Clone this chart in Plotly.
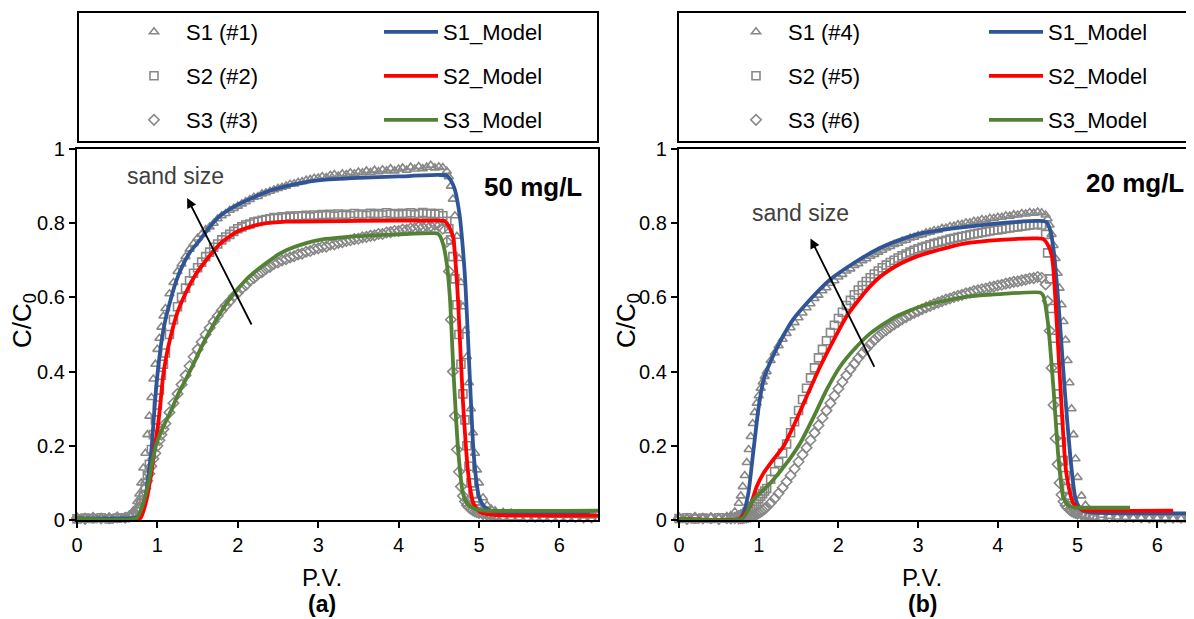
import plotly.graph_objects as go

W, H = 1194, 619
OFF = 8  # default page body margin that offsets the figure in the browser
FONT = "Liberation Sans, Arial, sans-serif"


def fx(p):
    return (p - OFF) / W


def fy(p):
    return 1 - (p - OFF) / H


# ---------------- shared P.V. sampling of the measured data ----------------
pv = [0.0, 0.1, 0.2, 0.3, 0.4, 0.5, 0.6, 0.65, 0.7, 0.75, 0.775, 0.8, 0.825, 0.85, 0.875,
      0.9, 0.925, 0.95, 0.975, 1.0, 1.025, 1.05, 1.075, 1.1, 1.15, 1.2, 1.25, 1.3, 1.35, 1.4, 1.45, 1.5,
      1.55, 1.6, 1.65, 1.7, 1.75, 1.8, 1.85, 1.9, 1.95, 2.0,
      2.05, 2.1, 2.15, 2.2, 2.25, 2.3, 2.35, 2.4, 2.45, 2.5,
      2.55, 2.6, 2.65, 2.7, 2.75, 2.8, 2.85, 2.9, 2.95, 3.0,
      3.05, 3.1, 3.15, 3.2, 3.25, 3.3, 3.35, 3.4, 3.45, 3.5,
      3.55, 3.6, 3.65, 3.7, 3.75, 3.8, 3.85, 3.9, 3.95, 4.0,
      4.05, 4.1, 4.15, 4.2, 4.25, 4.3, 4.35, 4.4, 4.45, 4.5,
      4.55, 4.6, 4.625, 4.65, 4.675, 4.7, 4.725, 4.75, 4.775, 4.8, 4.825, 4.85, 4.875,
      4.9, 4.925, 4.95, 4.975, 5.0, 5.05, 5.1, 5.15, 5.2,
      5.3, 5.4, 5.5, 5.6, 5.7, 5.8, 5.9, 6.0, 6.1, 6.2, 6.3, 6.4, 6.5]

# ---------------- panel (a): 50 mg/L measured ----------------
s1_a = [0.004, 0.006, 0.003, 0.005, 0.006, 0.004, 0.008, 0.012, 0.025, 0.05, 0.07, 0.1, 0.14, 0.18, 0.23,
        0.28, 0.33, 0.38, 0.42, 0.46, 0.49, 0.52, 0.55, 0.57, 0.61, 0.64, 0.67, 0.69, 0.71, 0.73, 0.745, 0.76,
        0.77, 0.783, 0.79, 0.80, 0.812, 0.82, 0.826, 0.835, 0.84, 0.846,
        0.852, 0.858, 0.864, 0.87, 0.872, 0.879, 0.882, 0.886, 0.89, 0.894,
        0.897, 0.90, 0.905, 0.906, 0.91, 0.912, 0.916, 0.918, 0.921, 0.922,
        0.926, 0.923, 0.929, 0.931, 0.927, 0.933, 0.931, 0.936, 0.933, 0.938,
        0.936, 0.941, 0.937, 0.943, 0.939, 0.944, 0.941, 0.947, 0.941, 0.946,
        0.949, 0.943, 0.951, 0.946, 0.953, 0.947, 0.951, 0.956, 0.949, 0.952,
        0.95, 0.94, 0.925, 0.9, 0.865, 0.82, 0.765, 0.705, 0.64, 0.575, 0.51, 0.44, 0.37,
        0.3, 0.235, 0.18, 0.135, 0.1, 0.06, 0.04, 0.03, 0.025,
        0.021, 0.019, 0.017, 0.016, 0.015, 0.014, 0.013, 0.013, 0.012, 0.012, 0.011, 0.011, 0.01]
s2_a = [0.003, 0.005, 0.004, 0.006, 0.003, 0.005, 0.006, 0.008, 0.012, 0.022, 0.03, 0.045, 0.065, 0.09, 0.12,
        0.15, 0.19, 0.23, 0.27, 0.31, 0.35, 0.39, 0.42, 0.45, 0.5, 0.54, 0.575, 0.6, 0.625, 0.645, 0.665, 0.68,
        0.695, 0.71, 0.722, 0.735, 0.744, 0.755, 0.763, 0.77, 0.778, 0.785,
        0.79, 0.795, 0.798, 0.803, 0.805, 0.808, 0.81, 0.812, 0.815, 0.813,
        0.817, 0.815, 0.819, 0.816, 0.82, 0.818, 0.821, 0.817, 0.822, 0.819,
        0.823, 0.82, 0.824, 0.819, 0.825, 0.821, 0.824, 0.82, 0.826, 0.822,
        0.825, 0.821, 0.827, 0.823, 0.826, 0.822, 0.828, 0.824, 0.826, 0.823,
        0.827, 0.824, 0.828, 0.823, 0.826, 0.829, 0.825, 0.827, 0.824, 0.826,
        0.82, 0.805, 0.785, 0.755, 0.71, 0.65, 0.58, 0.5, 0.42, 0.34, 0.27, 0.2, 0.145,
        0.1, 0.07, 0.05, 0.038, 0.03, 0.021, 0.017, 0.015, 0.013,
        0.012, 0.011, 0.011, 0.01, 0.01, 0.01, 0.009, 0.009, 0.009, 0.008, 0.008, 0.008, 0.008]
s3_a = [0.005, 0.003, 0.006, 0.004, 0.005, 0.007, 0.006, 0.01, 0.015, 0.025, 0.035, 0.05, 0.065, 0.085, 0.105,
        0.125, 0.145, 0.165, 0.18, 0.2, 0.215, 0.23, 0.245, 0.26, 0.29, 0.315, 0.34, 0.365, 0.39, 0.415, 0.44, 0.46,
        0.48, 0.5, 0.518, 0.535, 0.55, 0.565, 0.578, 0.59, 0.603, 0.612,
        0.624, 0.633, 0.645, 0.652, 0.662, 0.668, 0.677, 0.682, 0.69, 0.694,
        0.7, 0.703, 0.708, 0.711, 0.716, 0.718, 0.723, 0.725, 0.73, 0.732,
        0.736, 0.737, 0.742, 0.743, 0.747, 0.749, 0.752, 0.754, 0.757, 0.758,
        0.762, 0.763, 0.766, 0.767, 0.771, 0.771, 0.775, 0.776, 0.779, 0.779,
        0.783, 0.782, 0.786, 0.786, 0.79, 0.789, 0.793, 0.792, 0.796, 0.793,
        0.785, 0.75, 0.67, 0.54, 0.4, 0.28, 0.19, 0.13, 0.09, 0.065, 0.05, 0.04, 0.034,
        0.03, 0.026, 0.023, 0.021, 0.019, 0.016, 0.014, 0.013, 0.012,
        0.011, 0.01, 0.01, 0.009, 0.009, 0.009, 0.008, 0.008, 0.008, 0.008, 0.007, 0.007, 0.007]

# ---------------- panel (b): 20 mg/L measured ----------------
s1_b = [0.006, 0.004, 0.008, 0.005, 0.007, 0.005, 0.009, 0.012, 0.022, 0.045, 0.065, 0.09, 0.12, 0.155, 0.19,
        0.225, 0.26, 0.29, 0.315, 0.335, 0.355, 0.372, 0.387, 0.4, 0.43, 0.45, 0.47, 0.487, 0.503, 0.518, 0.532, 0.545,
        0.558, 0.572, 0.583, 0.597, 0.606, 0.618, 0.626, 0.638, 0.645, 0.655,
        0.662, 0.671, 0.677, 0.686, 0.691, 0.699, 0.704, 0.711, 0.716, 0.722,
        0.727, 0.733, 0.737, 0.743, 0.746, 0.752, 0.754, 0.76, 0.762, 0.767,
        0.769, 0.774, 0.776, 0.78, 0.781, 0.786, 0.787, 0.791, 0.792, 0.796,
        0.797, 0.801, 0.801, 0.805, 0.806, 0.81, 0.809, 0.813, 0.813, 0.816,
        0.816, 0.82, 0.819, 0.823, 0.822, 0.826, 0.825, 0.829, 0.827, 0.83,
        0.828, 0.822, 0.812, 0.795, 0.77, 0.74, 0.705, 0.665, 0.625, 0.58, 0.535, 0.485, 0.43,
        0.37, 0.3, 0.23, 0.165, 0.115, 0.065, 0.04, 0.027, 0.02,
        0.013, 0.01, 0.008, 0.007, 0.006, 0.006, 0.005, 0.005, 0.005, 0.004, 0.004, 0.004, 0.004]
s2_b = [0.004, 0.006, 0.003, 0.005, 0.004, 0.006, 0.005, 0.006, 0.007, 0.009, 0.011, 0.014, 0.017, 0.021, 0.026,
        0.031, 0.037, 0.043, 0.05, 0.057, 0.064, 0.071, 0.078, 0.085, 0.11, 0.13, 0.155, 0.18, 0.205, 0.235, 0.265, 0.295,
        0.325, 0.355, 0.383, 0.41, 0.437, 0.46, 0.483, 0.505, 0.525, 0.543,
        0.56, 0.578, 0.592, 0.607, 0.62, 0.632, 0.643, 0.653, 0.663, 0.671,
        0.68, 0.687, 0.694, 0.7, 0.706, 0.712, 0.717, 0.722, 0.727, 0.731,
        0.735, 0.738, 0.742, 0.745, 0.748, 0.751, 0.754, 0.757, 0.759, 0.762,
        0.764, 0.766, 0.769, 0.771, 0.773, 0.775, 0.777, 0.779, 0.781, 0.782,
        0.784, 0.786, 0.787, 0.789, 0.79, 0.792, 0.793, 0.795, 0.796, 0.797,
        0.795, 0.77, 0.72, 0.65, 0.57, 0.49, 0.41, 0.34, 0.27, 0.21, 0.16, 0.12, 0.085,
        0.06, 0.045, 0.035, 0.028, 0.023, 0.018, 0.014, 0.012, 0.011,
        0.01, 0.009, 0.009, 0.008, 0.008, 0.008, 0.007, 0.007, 0.007, 0.007, 0.006, 0.006, 0.006]
s3_b = [0.005, 0.003, 0.006, 0.004, 0.005, 0.003, 0.005, 0.004, 0.005, 0.004, 0.005, 0.005, 0.006, 0.007, 0.008,
        0.009, 0.011, 0.013, 0.016, 0.019, 0.022, 0.026, 0.03, 0.035, 0.046, 0.058, 0.072, 0.087, 0.103, 0.12, 0.138, 0.157,
        0.176, 0.195, 0.215, 0.235, 0.255, 0.275, 0.295, 0.315, 0.335, 0.354,
        0.372, 0.39, 0.406, 0.421, 0.436, 0.449, 0.462, 0.474, 0.485, 0.495,
        0.504, 0.512, 0.52, 0.527, 0.534, 0.541, 0.547, 0.553, 0.558, 0.563,
        0.568, 0.573, 0.577, 0.582, 0.586, 0.59, 0.594, 0.597, 0.601, 0.604,
        0.607, 0.611, 0.613, 0.617, 0.619, 0.622, 0.624, 0.627, 0.629, 0.632,
        0.634, 0.637, 0.639, 0.642, 0.643, 0.646, 0.648, 0.651, 0.652, 0.655,
        0.653, 0.635, 0.59, 0.51, 0.41, 0.31, 0.22, 0.15, 0.1, 0.068, 0.05, 0.04, 0.033,
        0.028, 0.024, 0.021, 0.019, 0.017, 0.015, 0.013, 0.012, 0.011,
        0.01, 0.009, 0.009, 0.008, 0.008, 0.007, 0.007, 0.007, 0.006, 0.006, 0.006, 0.006, 0.005]

# ---------------- model curves ----------------
m1_a_x = [0, 0.7, 0.76, 0.8, 0.85, 0.9, 0.93, 0.96, 0.99, 1.02, 1.05, 1.1, 1.16, 1.22, 1.28, 1.4, 1.53, 1.65, 1.78,
          2.0, 2.2, 2.4, 2.6, 2.8, 3.03, 3.5, 4.0, 4.5, 4.6, 4.65, 4.7, 4.76, 4.8, 4.83, 4.88, 4.93, 4.97, 5.0,
          5.05, 5.1, 5.2, 5.4, 6.38]
m1_a_y = [0.005, 0.005, 0.008, 0.025, 0.06, 0.14, 0.2, 0.29, 0.37, 0.43, 0.48, 0.54, 0.59, 0.635, 0.67, 0.72, 0.755,
          0.79, 0.82, 0.85, 0.87, 0.888, 0.9, 0.909, 0.916, 0.922, 0.926, 0.93, 0.928, 0.915, 0.89, 0.82, 0.73, 0.64,
          0.41, 0.19, 0.1, 0.063, 0.04, 0.03, 0.022, 0.02, 0.019]
m2_a_x = [0, 0.78, 0.82, 0.87, 0.93, 0.97, 1.01, 1.04, 1.07, 1.11, 1.16, 1.25, 1.37, 1.47, 1.57, 1.68, 1.78, 1.99,
          2.15, 2.3, 2.61, 3.5, 4.5, 4.57, 4.6, 4.64, 4.68, 4.71, 4.74, 4.8, 4.87, 4.93, 5.0, 5.05, 5.2, 6.5]
m2_a_y = [0.003, 0.003, 0.02, 0.06, 0.135, 0.2, 0.26, 0.32, 0.386, 0.44, 0.49, 0.56, 0.62, 0.66, 0.69, 0.72, 0.745,
          0.777, 0.79, 0.798, 0.804, 0.806, 0.807, 0.806, 0.8, 0.785, 0.76, 0.69, 0.59, 0.32, 0.117, 0.045, 0.024,
          0.018, 0.013, 0.012]
m3_a_x = [0, 0.74, 0.8, 0.85, 0.89, 0.94, 0.99, 1.07, 1.16, 1.26, 1.37, 1.47, 1.57, 1.68, 1.78, 1.88, 1.99, 2.09,
          2.19, 2.3, 2.4, 2.5, 2.61, 2.8, 3.02, 3.5, 4.0, 4.45, 4.5, 4.55, 4.6, 4.64, 4.68, 4.74, 4.8, 4.86, 4.93,
          5.0, 5.1, 6.5]
m3_a_y = [0.005, 0.005, 0.03, 0.065, 0.1, 0.16, 0.207, 0.25, 0.29, 0.34, 0.386, 0.43, 0.476, 0.52, 0.557, 0.59,
          0.62, 0.645, 0.665, 0.684, 0.7, 0.715, 0.728, 0.743, 0.755, 0.765, 0.77, 0.773, 0.77, 0.746, 0.69, 0.593,
          0.41, 0.19, 0.072, 0.042, 0.032, 0.027, 0.025, 0.025]

m1_b_x = [0, 0.76, 0.81, 0.87, 0.93, 1.0, 1.06, 1.14, 1.26, 1.43, 1.64, 1.89, 2.19, 2.52, 2.77, 3.02, 3.3, 3.61,
          4.03, 4.53, 4.61, 4.66, 4.7, 4.74, 4.78, 4.84, 4.91, 4.97, 5.02, 5.07, 5.2, 6.6]
m1_b_y = [0.003, 0.003, 0.02, 0.072, 0.18, 0.305, 0.377, 0.423, 0.477, 0.54, 0.593, 0.647, 0.692, 0.733, 0.755,
          0.772, 0.782, 0.79, 0.8, 0.806, 0.803, 0.78, 0.728, 0.64, 0.53, 0.35, 0.17, 0.063, 0.035, 0.025, 0.02, 0.018]
m2_b_x = [0, 0.765, 0.82, 0.89, 0.975, 1.06, 1.18, 1.31, 1.43, 1.6, 1.77, 1.94, 2.1, 2.27, 2.4, 2.52, 2.65, 2.77,
          2.9, 3.02, 3.19, 3.61, 4.03, 4.5, 4.57, 4.62, 4.68, 4.74, 4.8, 4.86, 4.95, 5.07, 5.2, 6.2]
m2_b_y = [0.003, 0.003, 0.015, 0.036, 0.09, 0.126, 0.162, 0.198, 0.25, 0.332, 0.413, 0.485, 0.548, 0.597, 0.63,
          0.655, 0.675, 0.69, 0.703, 0.713, 0.724, 0.746, 0.755, 0.759, 0.757, 0.745, 0.71, 0.53, 0.305, 0.126,
          0.045, 0.027, 0.025, 0.025]
m3_b_x = [0, 0.79, 0.85, 0.93, 1.06, 1.18, 1.35, 1.52, 1.69, 1.85, 2.02, 2.19, 2.4, 2.69, 3.02, 3.19, 3.61, 4.03,
          4.53, 4.57, 4.63, 4.7, 4.76, 4.82, 4.88, 4.95, 5.1, 5.66]
m3_b_y = [0.003, 0.003, 0.02, 0.054, 0.081, 0.108, 0.153, 0.207, 0.278, 0.35, 0.413, 0.458, 0.503, 0.545, 0.575,
          0.584, 0.602, 0.609, 0.613, 0.605, 0.53, 0.35, 0.17, 0.063, 0.04, 0.034, 0.033, 0.033]

x_ticks = [0, 1, 2, 3, 4, 5, 6]
y_ticks = [0, 0.2, 0.4, 0.6, 0.8, 1]
y_tick_text = ["0", "0.2", "0.4", "0.6", "0.8", "1"]

for arr in (s1_a, s2_a, s3_a, s1_b, s2_b, s3_b):
    assert len(arr) == len(pv), len(arr)
for xs, ys in ((m1_a_x, m1_a_y), (m2_a_x, m2_a_y), (m3_a_x, m3_a_y),
               (m1_b_x, m1_b_y), (m2_b_x, m2_b_y), (m3_b_x, m3_b_y)):
    assert len(xs) == len(ys), (len(xs), len(ys))

GRAY = "#888888"
BLUE = "#2f5597"
RED = "#ff0000"
GREEN = "#548235"

fig = go.Figure()

panels = [
    dict(xa="x", ya="y",
         data=[("S1 (#1)", s1_a, "triangle-up-open"), ("S2 (#2)", s2_a, "square-open"),
               ("S3 (#3)", s3_a, "diamond-open")],
         models=[("S1_Model", m1_a_x, m1_a_y, BLUE), ("S2_Model", m2_a_x, m2_a_y, RED),
                 ("S3_Model", m3_a_x, m3_a_y, GREEN)],
         mk_left=122, ln_left=379),
    dict(xa="x2", ya="y2",
         data=[("S1 (#4)", s1_b, "triangle-up-open"), ("S2 (#5)", s2_b, "square-open"),
               ("S3 (#6)", s3_b, "diamond-open")],
         models=[("S1_Model", m1_b_x, m1_b_y, BLUE), ("S2_Model", m2_b_x, m2_b_y, RED),
                 ("S3_Model", m3_b_x, m3_b_y, GREEN)],
         mk_left=724, ln_left=984),
]
row_y = [32, 76, 120]

legend_layouts = {}
k = 0


def next_legend():
    global k
    k += 1
    return "legend" if k == 1 else f"legend{k}"


for p in panels:
    for i, (name, ys, sym) in enumerate(p["data"]):
        lg = next_legend()
        fig.add_trace(go.Scatter(
            x=pv, y=ys, mode="markers", name=name, xaxis=p["xa"], yaxis=p["ya"],
            marker=dict(symbol=sym, size=8, color=GRAY, line=dict(color=GRAY, width=1.6)),
            cliponaxis=False, legend=lg, showlegend=True))
        legend_layouts[lg] = dict(x=fx(p["mk_left"]), y=fy(row_y[i]))
for p in panels:
    for i, (name, xs, ys, col) in enumerate(p["models"]):
        lg = next_legend()
        fig.add_trace(go.Scatter(
            x=xs, y=ys, mode="lines", name=name, xaxis=p["xa"], yaxis=p["ya"],
            line=dict(color=col, width=3.8, shape="spline", smoothing=0.6),
            legend=lg, showlegend=True))
        legend_layouts[lg] = dict(x=fx(p["ln_left"]), y=fy(row_y[i]))

layout_legends = {}
for lg, pos in legend_layouts.items():
    layout_legends[lg] = dict(
        x=pos["x"], y=pos["y"], xanchor="left", yanchor="middle", xref="paper", yref="paper",
        bgcolor="rgba(0,0,0,0)", borderwidth=0, itemwidth=54,
        font=dict(family=FONT, size=22, color="black"))

axis_common = dict(showline=True, linewidth=2.2, linecolor="black", ticks="outside", ticklen=6,
                   tickwidth=2, tickcolor="black", showgrid=False, zeroline=False,
                   tickfont=dict(family=FONT, size=20, color="black"))

y_dom = [fy(520), fy(149)]

fig.update_layout(
    width=W, height=H, margin=dict(l=0, r=0, t=0, b=0, autoexpand=False),
    paper_bgcolor="white", plot_bgcolor="white",
    font=dict(family=FONT, color="black"),
    xaxis=dict(domain=[fx(77), fx(598)], range=[0, 6.48], anchor="y", tickvals=x_ticks,
               mirror=True, **axis_common),
    yaxis=dict(domain=y_dom, range=[0, 1], anchor="x", tickvals=y_ticks, ticktext=y_tick_text,
               mirror=True, **axis_common),
    xaxis2=dict(domain=[fx(679), 1.0], range=[0, (W + OFF - 679) / 79.7], anchor="y2", tickvals=x_ticks,
                mirror=True, **axis_common),
    yaxis2=dict(domain=y_dom, range=[0, 1], anchor="x2", tickvals=y_ticks, ticktext=y_tick_text,
                mirror=False, **axis_common),
    **layout_legends,
)

# legend boxes
for x0, x1 in ((78, 598), (678, 1210)):
    fig.add_shape(type="rect", xref="paper", yref="paper", x0=fx(x0), x1=fx(x1),
                  y0=fy(142), y1=fy(12), line=dict(color="black", width=2),
                  fillcolor="rgba(0,0,0,0)", layer="above")

# annotations
ann = []
for xr, yr, tx, ty, hx, hy, ax_, ay_, conc, cx, cy in (
        ("x", "y", 1.22, 0.927, 1.37, 0.868, 2.18, 0.523, "50 mg/L", 5.67, 0.898),
        ("x2", "y2", 1.52, 0.827, 1.65, 0.759, 2.46, 0.409, "20 mg/L", 5.72, 0.908)):
    ann.append(dict(x=tx, y=ty, xref=xr, yref=yr, text="sand size", showarrow=False,
                    xanchor="center", yanchor="middle",
                    font=dict(family=FONT, size=23, color="#404040")))
    ann.append(dict(x=hx, y=hy, xref=xr, yref=yr, ax=ax_, ay=ay_, axref=xr, ayref=yr, text="",
                    showarrow=True, arrowhead=2, arrowsize=1.1, arrowwidth=1.8, arrowcolor="black"))
    ann.append(dict(x=cx, y=cy, xref=xr, yref=yr, text="<b>" + conc + "</b>", showarrow=False,
                    xanchor="center", yanchor="middle",
                    font=dict(family=FONT, size=26, color="black")))

for cxp, lab, ylab_x in ((322, "(a)", 23), (922, "(b)", 627)):
    ann.append(dict(x=fx(cxp), y=fy(577), xref="paper", yref="paper", text="P.V.", showarrow=False,
                    xanchor="center", yanchor="middle",
                    font=dict(family=FONT, size=24, color="black")))
    ann.append(dict(x=fx(cxp), y=fy(604), xref="paper", yref="paper", text="<b>" + lab + "</b>",
                    showarrow=False, xanchor="center", yanchor="middle",
                    font=dict(family=FONT, size=23, color="black")))
    ann.append(dict(x=fx(ylab_x), y=fy(321), xref="paper", yref="paper", text="C/C<sub>0</sub>",
                    showarrow=False, textangle=-90, xanchor="center", yanchor="middle",
                    font=dict(family=FONT, size=26, color="black")))

fig.update_layout(annotations=ann)

fig.write_html("out.html")
